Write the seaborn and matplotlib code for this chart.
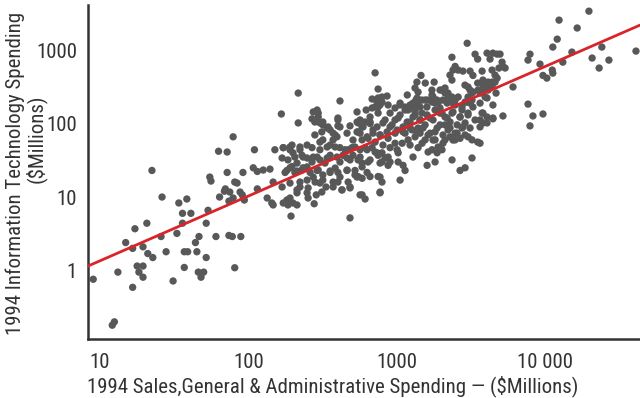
import numpy as np
import pandas as pd
import matplotlib
matplotlib.use("Agg")
import matplotlib.pyplot as plt
import seaborn as sns
from matplotlib import font_manager
from matplotlib.ticker import FixedLocator, FixedFormatter, NullLocator

# 1994 Sales, General & Administrative spending ($M) per company
sga_spend = [
    9.0, 12.1, 12.5, 13.2, 14.9, 16.6, 16.6, 17.2, 17.8, 18.3, 19.5, 19.5, 19.5, 20.7, 21, 22.7, 22.4,
    25.8, 26.2, 27.9, 31.1, 33, 34, 36, 36, 37, 37, 38.5, 39, 41, 44, 45, 46.5, 46, 48, 50, 52, 52,
    53.5, 55, 56, 60.5, 63, 64, 69,
    81, 70, 75, 79, 74, 88, 91, 94, 84, 115, 134, 144, 147, 147, 169, 172, 182, 191, 185, 200, 213,
    194, 223, 213, 213, 253, 249, 253, 278, 287, 313, 334, 304, 282, 373, 402, 428, 485, 471, 485,
    567, 74, 78, 89, 81,
    217, 415, 167, 217, 541, 291, 296, 269, 281, 304, 318, 340, 356, 402, 402, 485, 550, 541, 385,
    373, 396, 281, 304, 318, 79, 72, 110, 151, 172, 191, 197, 223, 249, 269, 169, 185, 72, 92, 108,
    115, 126, 140,
    356, 385, 415, 449, 500, 206, 230, 249, 274, 304, 340, 396, 463, 508, 182, 197, 213, 234, 261,
    291, 318, 356, 402, 463, 524, 191,
    2990, 716, 2360, 3380, 3520, 4070, 4264, 4460, 2480, 2400, 2600, 2290, 2360, 2800, 3126, 3270,
    3770, 4400, 1460, 1370, 1560, 1790, 750, 683, 750, 797, 862, 1180, 1330, 1395, 1374, 1480, 1395,
    1730, 1760, 1680, 1820, 2020, 2120, 2220, 2360, 2480, 2050, 2190, 2890, 3030, 3126, 3270, 3030,
    3220, 3126, 3540, 3820, 4070, 4140, 4400, 3820, 3651, 3950, 4140, 773, 716, 1055, 1140, 1232,
    1270, 1350,
    613, 585, 550, 662, 750, 750, 738, 797, 903, 876, 1195, 1290, 1374, 1332, 1484, 1439, 1600, 1732,
    1816, 1900, 2023, 2120, 2364, 2480, 2760, 2894, 3126, 3765, 4070, 3823, 4460, 3651, 2894, 2760,
    2480, 2223, 2120, 2292, 2480, 2677, 2894, 3032, 3223, 3520, 3651, 1816, 1903, 1732, 1630, 2023,
    1874, 1484, 1332, 1195, 1090, 976, 1008, 1024, 524, 567, 613, 683, 716, 750, 797, 836, 876, 903,
    876, 797, 550, 585, 642, 524, 550, 1024, 1105, 1140, 1055, 1290, 1605, 1816, 2364, 3223, 2677,
    2894, 662, 585, 750, 797, 613, 773,
    836, 931, 1024, 1105, 1232, 1395, 1556, 1680, 1962, 1816, 1630, 1439, 1270, 1140, 976, 876, 773,
    693, 642, 585, 716, 903, 809, 1232, 1395, 1556, 2120, 2292, 2560, 3126, 3380, 3030, 2677, 1962,
    1556, 976, 683, 623, 567, 662,
    19800, 12450, 16500, 12100, 11300, 15200, 24200, 20800, 27000, 23200, 41100, 7930, 7690, 9260,
    13200, 11200, 11300, 9700, 10300, 6090, 4760, 4980, 5140, 5210, 5390, 4900, 4610, 4760, 4460,
    4400, 4680, 7690, 8300, 9700, 7930, 5210, 4460,
    172, 191, 200, 223, 234, 213, 191, 177, 206, 230, 249, 269, 291, 304, 340, 356, 329, 296, 274,
    249, 223, 318, 356, 385, 415, 435, 471, 485, 463, 415, 373, 485, 541, 585, 567, 632, 662, 738,
    773, 632, 773, 773, 585, 428,
    1055, 1140, 1270, 1332, 1439, 1605, 1732, 1874, 1962, 2120, 2223, 2400, 2600, 2760, 2990, 3220,
    3270, 3030, 2677, 2400, 2190, 1962, 1760, 1605, 1439, 1290, 1177, 1055, 976, 903, 1008, 1105,
    1232, 1374, 1507, 1680, 1874, 2054, 2292, 2557, 2800, 2400, 2054, 1760,
    3520, 3820, 4264, 4610, 4070, 3651, 4460, 3820, 3651, 4070,
    541, 594, 662, 738, 809, 862, 773, 693, 632, 567, 508, 463, 415,
    274, 296, 318, 345, 313, 373, 402,
]

# 1994 Information Technology spending ($M) per company
it_spend = [
    0.76, 0.18, 0.20, 0.95, 2.4, 2.0, 0.59, 3.7, 1.15, 0.95, 1.15, 2.1, 0.81, 4.4, 1.7, 1.5, 23,
    2.9, 10, 1.8, 0.72, 3.2, 8.3, 6.0, 4.4, 1.8, 1.1, 9.4, 1.8, 6.0, 2.4, 1.8, 2.9, 0.95, 0.81, 0.95, 4.4, 1.5,
    6.6, 18.7, 16.5, 2.9, 42, 10, 12,
    16, 12.9, 11.7, 9.7, 8.8, 11.7, 10.7, 9.1, 15.5, 12.9, 9.7, 8.3, 7.8, 16, 13.7, 8.3, 9.1, 9.7, 7.8, 8.3, 7.8,
    5.5, 16, 12.5, 11.4, 13.3, 11.4, 9.7, 8.1, 10.7, 11.7, 13.7, 15.5, 16, 16, 16, 12.5, 13.3, 16, 5.2,
    10.7, 3.0, 2.9, 2.9, 1.09,
    260, 203, 135, 102, 144, 153, 139, 116, 105, 102, 96, 87, 82, 119, 93, 93, 102, 77, 70,
    60, 66, 70, 56, 60, 66, 41, 44, 44, 47, 44, 51, 48, 51, 47, 34, 32, 21.6, 21.6, 25,
    22.3, 23.3, 24,
    51, 48, 47, 44, 47, 35, 37, 34, 35, 32, 34, 35, 34, 37, 23, 26, 22.6, 25, 21.6,
    23, 20, 22.6, 21.6, 23, 20, 15.5,
    1240, 490, 800, 880, 755, 910, 755, 910, 600, 535, 535, 457, 391, 518, 518, 452,
    518, 535, 452, 367, 356, 367, 295, 216, 223, 230, 237, 245, 305, 269, 223, 209, 179,
    286, 230, 209, 190, 286, 305, 260, 230, 209, 209, 190, 334, 315, 286, 269, 230,
    209, 190, 286, 334, 315, 367, 367, 391, 260, 230, 286, 179, 168, 190, 168, 179,
    163, 209,
    105, 90, 77, 123, 139, 168, 196, 196, 139, 179, 153, 190, 168, 131, 139, 112, 168, 196,
    153, 190, 139, 123, 139, 179, 153, 196, 196, 139, 123, 102, 119, 90, 102, 87,
    74, 82, 60, 66, 60, 63, 70, 66, 60, 56, 54, 60, 48, 44, 41, 44,
    40, 54, 66, 60, 54, 54, 44, 40, 48, 44, 47, 47, 41, 37, 40, 34, 35, 30,
    27, 30, 32, 29, 30, 23, 19, 30, 27, 23, 17, 35, 27, 30, 32, 34, 23,
    25, 19, 18, 19, 16, 9.4, 11.4,
    112, 96, 119, 90, 105, 87, 96, 119, 96, 77, 70, 74, 82, 74, 74, 63, 70,
    82, 63, 60, 56, 47, 51, 51, 47, 60, 96, 105, 96, 87, 112, 131, 123, 163,
    209, 163, 163, 153, 112, 100,
    3390, 2560, 2000, 1410, 1100, 940, 1100, 780, 731, 570, 970, 880, 731, 645,
    686, 535, 486, 452, 416, 315, 882, 882, 686, 598, 570, 570, 457, 416, 356,
    324, 260, 184, 127, 135, 93, 127, 116,
    47, 48, 40, 44, 35, 29, 25, 21.6, 21.6, 23.3, 25.7, 30, 35, 44, 48, 37, 29, 23.3, 18.7,
    17, 13.7, 17, 21.6, 24.8, 30, 37, 44, 32, 23.3, 18.7, 13.7, 13.7, 18.7, 25.7, 35, 44, 32, 40,
    29, 21.6, 18.7, 11.7, 10.7, 12.5,
    179, 153, 179, 144, 168, 209, 245, 209, 286, 260, 223, 190, 230, 168, 196, 260,
    168, 139, 123, 144, 119, 139, 112, 131, 112, 123, 105, 131, 112, 90, 81.6, 77,
    87, 74, 87, 74, 87, 70, 87, 74, 90, 59.7, 54, 59.7,
    356, 286, 315, 367, 223, 190, 179, 139, 112, 102,
    105, 90, 105, 90, 102, 77, 70, 74, 66, 74, 59.7, 74, 90,
    144, 123, 105, 90, 77, 74, 112,
]

# fitted trend line (read at the plot's left and right edges)
fit_sga = [8.3, 43750]
fit_it = [1.15, 2190]

x_ticks = [10, 100, 1000, 10000]
x_tick_labels = ["10", "100", "1000", "10 000"]
y_ticks = [1, 10, 100, 1000]
y_tick_labels = ["1", "10", "100", "1000"]

sns.set_theme(style="white")
available = {f.name for f in font_manager.fontManager.ttflist}
preferred = ["Roboto Condensed", "Archivo Narrow", "PT Sans Narrow", "Liberation Sans Narrow",
             "Fira Sans Condensed", "IBM Plex Sans Condensed", "Open Sans Condensed"]
families = [f for f in preferred if f in available][:1] + ["DejaVu Sans"]
plt.rcParams["font.family"] = families

ink = "#333333"
fig = plt.figure(figsize=(6.4, 3.98), dpi=100)
ax = fig.add_axes([0.1375, 0.147, 0.8625, 0.840])

df = pd.DataFrame({"sga": sga_spend, "it": it_spend})
sns.scatterplot(data=df, x="sga", y="it", ax=ax, s=28, color="#585858",
                edgecolor="none", linewidth=0, zorder=2)
sns.lineplot(x=fit_sga, y=fit_it, ax=ax, color="#d9252a", linewidth=2.0, zorder=3)

ax.set_xscale("log")
ax.set_yscale("log")
ax.set_xlim(8.3, 43750)
ax.set_ylim(0.115, 4090)

ax.xaxis.set_major_locator(FixedLocator(x_ticks))
ax.xaxis.set_major_formatter(FixedFormatter(x_tick_labels))
ax.yaxis.set_major_locator(FixedLocator(y_ticks))
ax.yaxis.set_major_formatter(FixedFormatter(y_tick_labels))
ax.xaxis.set_minor_locator(NullLocator())
ax.yaxis.set_minor_locator(NullLocator())

for side in ["top", "right"]:
    ax.spines[side].set_visible(False)
for side in ["left", "bottom"]:
    ax.spines[side].set_color(ink)
    ax.spines[side].set_linewidth(1.8)

ax.tick_params(which="major", direction="inout", length=8, width=1.0, color=ink,
               labelsize=15, labelcolor=ink)
ax.tick_params(axis="x", pad=6)
ax.tick_params(axis="y", pad=4)

ax.set_xlabel("1994 Sales,General & Administrative Spending \u2014 ($Millions)",
              fontsize=15, color=ink)
ax.xaxis.set_label_coords(0.444, -0.139)
ax.xaxis.label.set_va("center")

ax.set_ylabel("1994 Information Technology Spending", fontsize=15, color=ink)
ax.yaxis.set_label_coords(-0.132, 0.498)
ax.yaxis.label.set_va("center")
ax.text(-0.094, 0.60, "($Millions)", transform=ax.transAxes, rotation=90,
        ha="center", va="center", fontsize=15, color=ink)

ax.set_facecolor("white")
fig.patch.set_facecolor("white")
fig.savefig("out.png", dpi=100, facecolor="white")
